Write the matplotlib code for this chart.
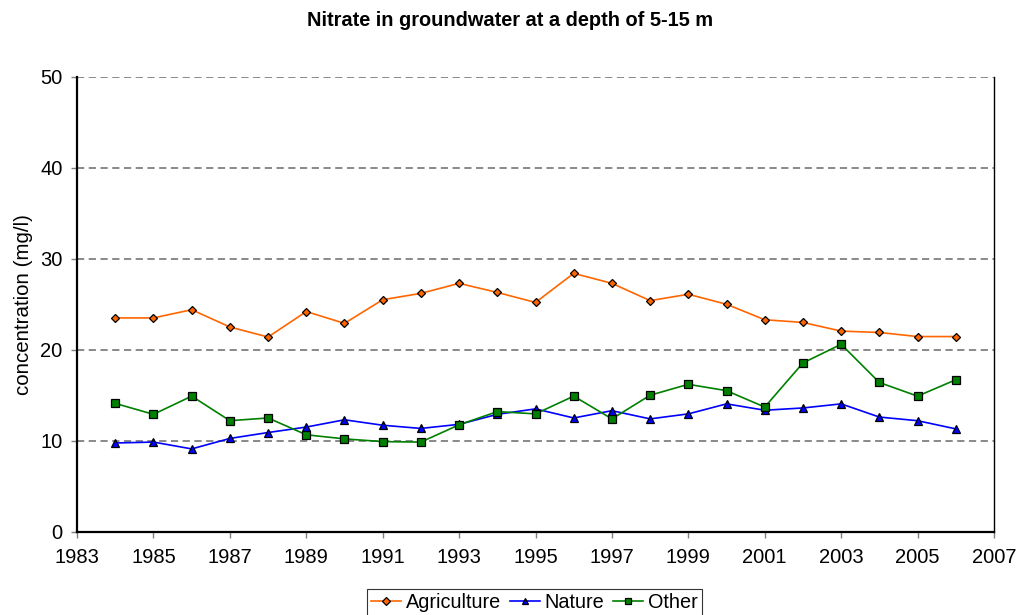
import matplotlib
matplotlib.use("Agg")
import matplotlib.pyplot as plt

years = list(range(1984, 2007))
agriculture = [23.5, 23.5, 24.4, 22.5, 21.4, 24.2, 22.9, 25.5, 26.2, 27.3, 26.3, 25.2,
               28.4, 27.3, 25.4, 26.1, 25.0, 23.3, 23.0, 22.05, 21.9, 21.45, 21.45]
nature = [9.75, 9.85, 9.1, 10.25, 10.9, 11.5, 12.3, 11.7, 11.35, 11.8, 12.9, 13.5,
          12.5, 13.3, 12.4, 12.95, 14.05, 13.35, 13.6, 14.05, 12.6, 12.2, 11.3]
other = [14.1, 12.9, 14.9, 12.2, 12.5, 10.65, 10.2, 9.9, 9.85, 11.75, 13.2, 12.95,
         14.9, 12.4, 15.0, 16.2, 15.5, 13.7, 18.55, 20.6, 16.4, 14.9, 16.7]
x_ticks = list(range(1983, 2008, 2))
y_ticks = [0, 10, 20, 30, 40, 50]

plt.rcParams['font.family'] = ['Liberation Sans', 'DejaVu Sans']

fig = plt.figure(figsize=(10.18, 6.15), dpi=100)
ax = fig.add_axes([0.0757, 0.1355, 0.9007, 0.7395])

for y in y_ticks[1:]:
    ax.axhline(y, color='#808080', linestyle=(0, (4, 2.5)), linewidth=1.3, zorder=1)

ax.plot(years, agriculture, color='#FF6600', linewidth=1.2, marker='D', markersize=4.5,
        markerfacecolor='#FF6600', markeredgecolor='black', markeredgewidth=0.9,
        label='Agriculture', zorder=3)
ax.plot(years, nature, color='#0000FF', linewidth=1.2, marker='^', markersize=5.8,
        markerfacecolor='#0000FF', markeredgecolor='black', markeredgewidth=0.9,
        label='Nature', zorder=3)
ax.plot(years, other, color='#008000', linewidth=1.2, marker='s', markersize=5.4,
        markerfacecolor='#008000', markeredgecolor='black', markeredgewidth=0.9,
        label='Other', zorder=3)

ax.set_xlim(1983, 2007)
ax.set_ylim(0, 50)
ax.set_xticks(x_ticks)
ax.set_yticks(y_ticks)
ax.tick_params(axis='both', labelsize=14.5, direction='out', length=4.5, width=1,
               color='#808080')
ax.tick_params(axis='x', pad=7)
ax.tick_params(axis='y', pad=6)
ax.spines['top'].set_visible(False)
ax.spines['left'].set_linewidth(1.6)
ax.spines['bottom'].set_linewidth(1.6)
ax.spines['right'].set_linewidth(1.0)

ax.set_ylabel('concentration (mg/l)', fontsize=14.8, labelpad=5)
fig.text(0.5015, 1 - 26 / 615, 'Nitrate in groundwater at a depth of 5-15 m',
         ha='center', va='baseline', fontsize=14.4, fontweight='bold')

leg = fig.legend(loc='upper center', bbox_to_anchor=(0.5248, 0.0425), ncol=3,
                 fontsize=14.3, frameon=True, fancybox=False, edgecolor='black',
                 handlelength=1.5, handletextpad=0.25, columnspacing=0.45,
                 borderpad=0.2, borderaxespad=0, markerscale=0.8)
leg.get_frame().set_linewidth(0.8)

fig.savefig('out.png', dpi=100)
